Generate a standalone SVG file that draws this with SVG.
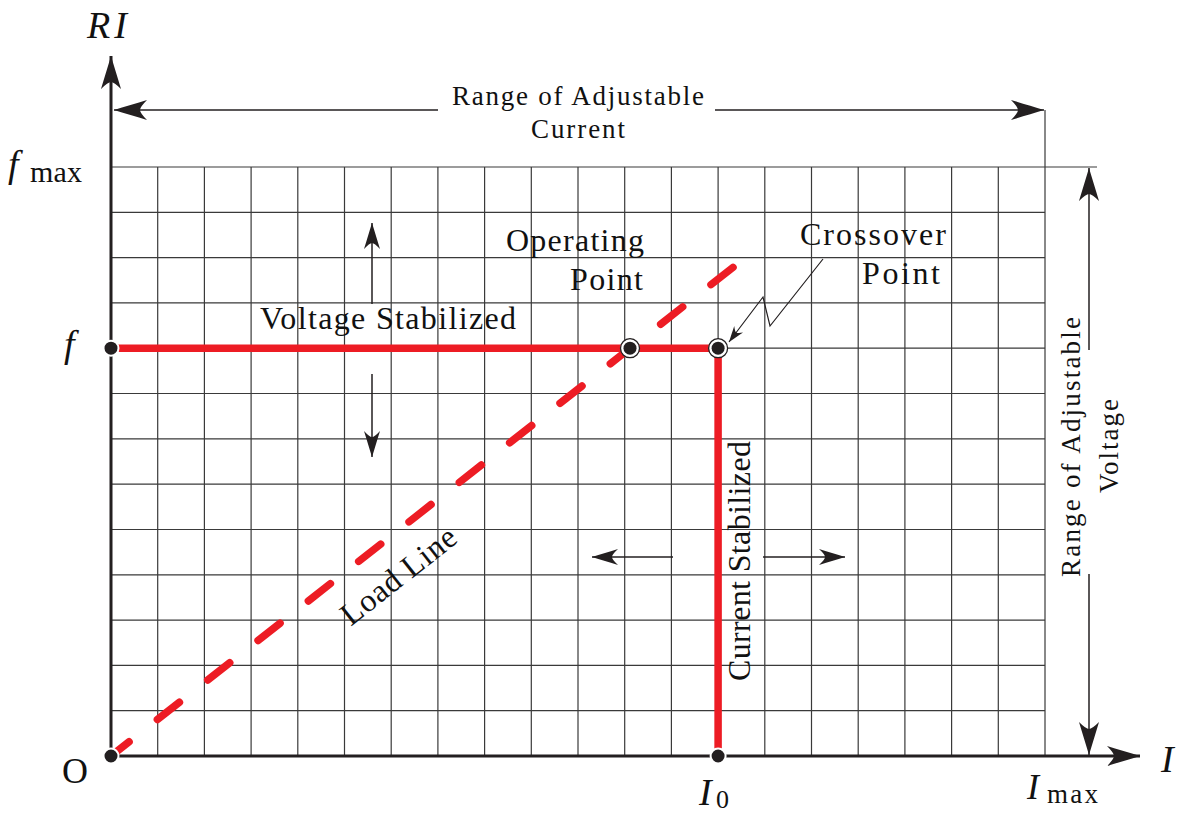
<svg xmlns="http://www.w3.org/2000/svg" width="1182" height="814" viewBox="0 0 1182 814">
<style>
.grid{stroke:#3a3a3a;stroke-width:1.2;fill:none}
.axis{stroke:#231F20;stroke-width:3;fill:none}
.dim{stroke:#231F20;stroke-width:1.5;fill:none}
.red{stroke:#ED1C24;stroke-width:7.5;fill:none}
.dash{stroke:#ED1C24;stroke-width:7.5;fill:none;stroke-linecap:round;stroke-dasharray:28 36;stroke-dashoffset:5}
.rm{font-family:"Liberation Serif","Times New Roman",serif;fill:#111}
.it{font-family:"Liberation Serif","Times New Roman",serif;font-style:italic;fill:#111}
.lbl{font-size:32px}
.lbl2{font-size:27px}
.dot{fill:#231F20;stroke:#fff;stroke-width:2}
.ring{fill:#fff;stroke:#231F20;stroke-width:1.3}
</style>
<defs>
<marker id="big" markerUnits="userSpaceOnUse" viewBox="-34 -11 35 22" markerWidth="35" markerHeight="22" refX="0" refY="0" orient="auto">
<path d="M0,0 C-10,-3 -23,-7 -33,-10 Q-26,-3 -26,0 Q-26,3 -33,10 C-23,7 -10,3 0,0 Z" fill="#231F20"/>
</marker>
<marker id="mid" markerUnits="userSpaceOnUse" viewBox="-27 -9 28 18" markerWidth="28" markerHeight="18" refX="0" refY="0" orient="auto">
<path d="M0,0 C-8,-2.5 -18,-5.5 -26,-8 Q-20,-2.5 -20,0 Q-20,2.5 -26,8 C-18,5.5 -8,2.5 0,0 Z" fill="#231F20"/>
</marker>
<marker id="small" markerUnits="userSpaceOnUse" viewBox="-17 -6 18 12" markerWidth="18" markerHeight="12" refX="0" refY="0" orient="auto">
<path d="M0,0 C-5,-1.8 -11,-3.8 -16,-5.5 Q-12,-1.8 -12,0 Q-12,1.8 -16,5.5 C-11,3.8 -5,1.8 0,0 Z" fill="#231F20"/>
</marker>
</defs>

<g id="grid">
<path class="grid" d="M157.7,167V756M204.4,167V756M251.1,167V756M297.8,167V756M344.5,167V756M391.2,167V756M437.9,167V756M484.6,167V756M531.3,167V756M578,167V756M624.7,167V756M671.4,167V756M718.1,167V756M764.8,167V756M811.5,167V756M858.2,167V756M904.9,167V756M951.6,167V756M998.3,167V756M1045,110V756"/>
<path class="grid" d="M111,167H1097M111,212.3H1045M111,257.6H1045M111,302.9H1045M111,348.2H1045M111,393.5H1045M111,438.8H1045M111,484.2H1045M111,529.5H1045M111,574.8H1045M111,620.1H1045M111,665.4H1045M111,710.7H1045"/>
</g>

<g id="axes">
<line class="axis" x1="111" y1="756" x2="111" y2="56" marker-end="url(#big)"/>
<line class="axis" x1="111" y1="756" x2="1140" y2="756" marker-end="url(#big)"/>
</g>

<g id="connectors">
<line class="dim" x1="438" y1="110" x2="114" y2="110" marker-end="url(#big)"/>
<line class="dim" x1="715" y1="110" x2="1044" y2="110" marker-end="url(#big)"/>
<line class="dim" x1="1089" y1="350" x2="1089" y2="168" marker-end="url(#big)"/>
<line class="dim" x1="1089" y1="574" x2="1089" y2="755" marker-end="url(#big)"/>
<line class="dim" x1="372" y1="304" x2="372" y2="223" marker-end="url(#mid)"/>
<line class="dim" x1="372" y1="374" x2="372" y2="457" marker-end="url(#mid)"/>
<line class="dim" x1="673" y1="557" x2="592" y2="557" marker-end="url(#mid)"/>
<line class="dim" x1="763" y1="557" x2="845" y2="557" marker-end="url(#mid)"/>
<polyline class="dim" style="stroke-width:1.2" points="823,259 770,326 763,297 729,342" marker-end="url(#small)"/>
</g>

<g id="curves">
<line class="dash" x1="111" y1="756" x2="736" y2="265"/>
<path class="red" d="M111,348.2H718.1V756"/>
</g>

<g id="points">
<circle class="dot" cx="111" cy="348.2" r="7.5"/>
<circle class="dot" cx="111" cy="756" r="7.5"/>
<circle class="dot" cx="718.1" cy="756" r="7.5"/>
<g id="operating-point"><circle class="ring" cx="630" cy="348.2" r="9.5"/><circle cx="630" cy="348.2" r="6.5" fill="#231F20"/></g>
<g id="crossover-point"><circle class="ring" cx="718.1" cy="348.2" r="9.5"/><circle cx="718.1" cy="348.2" r="6.5" fill="#231F20"/></g>
</g>

<g id="labels">
<text class="it" x="87" y="38" font-size="38" textLength="40">RI</text>
<text class="it" x="8" y="177" font-size="38">f</text>
<text class="rm" x="30" y="182" font-size="30" textLength="52">max</text>
<text class="it" x="64" y="357" font-size="38">f</text>
<text class="rm" x="62" y="783" font-size="36">O</text>
<text class="it" x="699" y="805" font-size="38">I</text>
<text class="rm" x="716" y="808" font-size="26">0</text>
<text class="it" x="1027" y="799" font-size="36">I</text>
<text class="rm" x="1047" y="803" font-size="27" textLength="51">max</text>
<text class="it" x="1161" y="772" font-size="38">I</text>
<text class="rm lbl2" x="578" y="105" text-anchor="middle" textLength="252">Range of Adjustable</text>
<text class="rm lbl2" x="578" y="138" text-anchor="middle" textLength="94">Current</text>
<text class="rm lbl2" transform="translate(1080,447) rotate(-90)" text-anchor="middle" textLength="260">Range of Adjustable</text>
<text class="rm lbl2" transform="translate(1118,446) rotate(-90)" text-anchor="middle" textLength="94">Voltage</text>
<text class="rm lbl" x="260" y="329" textLength="256">Voltage Stabilized</text>
<text class="rm lbl" x="506" y="251" textLength="138">Operating</text>
<text class="rm lbl" x="570" y="290" textLength="73">Point</text>
<text class="rm lbl" x="800" y="245" textLength="146">Crossover</text>
<text class="rm lbl" x="862" y="284" textLength="78">Point</text>
<text class="rm lbl" transform="translate(750,561) rotate(-90)" text-anchor="middle" textLength="240">Current Stabilized</text>
<text class="rm lbl" transform="translate(405,584) rotate(-38.2)" text-anchor="middle" textLength="138">Load Line</text>
</g>
</svg>
